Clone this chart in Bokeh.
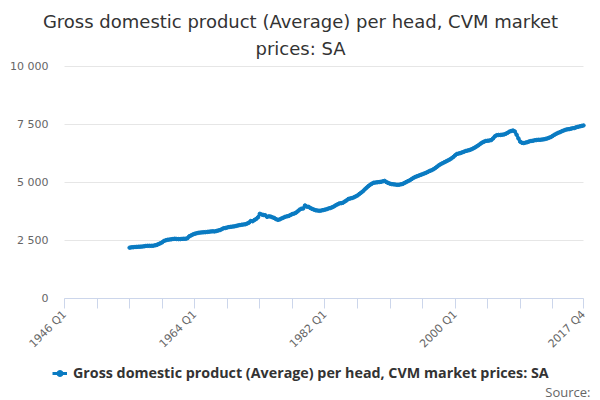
import math
from bokeh.plotting import figure
from bokeh.models import (Range1d, FixedTicker, Legend, LegendItem,
                          ColumnDataSource, Label)
from bokeh.embed import file_html
from bokeh.resources import INLINE

TITLE_1 = "Gross domestic product (Average) per head, CVM market"
TITLE_2 = "prices: SA"
SERIES_NAME = "Gross domestic product (Average) per head, CVM market prices: SA"
SOURCE_TEXT = "Source:"

FIRST_YEAR = 1946
LAST_YEAR = 2017
DATA_START_YEAR = 1955

# quarterly values (Q1..Q4) per year, 1955-2017
values_1955_1964 = [
    2190, 2205, 2210, 2220,
    2225, 2230, 2235, 2240,
    2250, 2265, 2270, 2270,
    2270, 2275, 2290, 2310,
    2345, 2380, 2420, 2480,
    2510, 2530, 2540, 2550,
    2565, 2575, 2565, 2560,
    2560, 2570, 2575, 2575,
    2600, 2680, 2720, 2760,
    2790, 2810, 2830, 2840,
]
values_1965_1974 = [
    2850, 2855, 2860, 2870,
    2880, 2890, 2895, 2890,
    2910, 2930, 2950, 2990,
    3030, 3040, 3060, 3080,
    3090, 3100, 3110, 3130,
    3150, 3165, 3180, 3190,
    3200, 3230, 3270, 3340,
    3330, 3380, 3430, 3500,
    3650, 3620, 3600, 3590,
    3520, 3540, 3530, 3500,
]
values_1975_1984 = [
    3470, 3420, 3390, 3410,
    3450, 3480, 3520, 3540,
    3560, 3600, 3640, 3660,
    3700, 3760, 3830, 3870,
    3880, 4010, 3960, 3950,
    3900, 3860, 3830, 3800,
    3790, 3780, 3790, 3810,
    3830, 3850, 3880, 3900,
    3930, 3970, 4020, 4060,
    4100, 4110, 4130, 4180,
]
values_1985_1994 = [
    4230, 4290, 4310, 4330,
    4360, 4400, 4440, 4500,
    4560, 4620, 4700, 4770,
    4840, 4900, 4950, 4990,
    5000, 5010, 5020, 5030,
    5050, 5070, 5020, 4980,
    4950, 4930, 4920, 4910,
    4900, 4905, 4920, 4940,
    4980, 5020, 5060, 5100,
    5150, 5200, 5240, 5270,
]
values_1995_2004 = [
    5300, 5330, 5360, 5390,
    5420, 5460, 5500, 5530,
    5570, 5620, 5680, 5740,
    5790, 5830, 5870, 5910,
    5950, 5990, 6040, 6100,
    6170, 6230, 6250, 6270,
    6300, 6330, 6360, 6380,
    6400, 6430, 6470, 6510,
    6560, 6610, 6670, 6720,
    6760, 6790, 6800, 6810,
]
values_2005_2017 = [
    6830, 6900, 6990, 7040,
    7050, 7050, 7060, 7070,
    7100, 7140, 7190, 7220,
    7240, 7200, 7060, 6900,
    6760, 6710, 6700, 6720,
    6740, 6770, 6790, 6800,
    6820, 6830, 6840, 6840,
    6850, 6860, 6880, 6900,
    6930, 6960, 7010, 7060,
    7100, 7140, 7170, 7210,
    7240, 7270, 7290, 7300,
    7320, 7340, 7350, 7380,
    7400, 7420, 7440, 7460,
]

y_ticks = [0, 2500, 5000, 7500, 10000]
y_tick_labels = ["0", "2 500", "5 000", "7 500", "10 000"]
x_label_quarters = ["1946 Q1", "1964 Q1", "1982 Q1", "2000 Q1", "2017 Q4"]

values = (values_1955_1964 + values_1965_1974 + values_1975_1984 +
          values_1985_1994 + values_1995_2004 + values_2005_2017)
start_idx = (DATA_START_YEAR - FIRST_YEAR) * 4
x_idx = list(range(start_idx, start_idx + len(values)))
last_idx = (LAST_YEAR - FIRST_YEAR) * 4 + 3
Y_MAX = y_ticks[-1]

def q_index(label):
    yr, q = label.split(" ")
    return (int(yr) - FIRST_YEAR) * 4 + int(q[1]) - 1

src = ColumnDataSource(dict(x=x_idx, y=values))

# ---- geometry (canvas pixels; the frame covers the whole canvas) ----
W, H = 600, 400
AXIS_L, AXIS_R = 64, 583     # pixels of first / last quarter
Y_TOP, Y_ZERO = 66, 298      # pixels of Y_MAX / 0
px_per_q = (AXIS_R - AXIS_L) / last_idx
px_per_v = (Y_ZERO - Y_TOP) / Y_MAX
x_range = Range1d(-AXIS_L / px_per_q, last_idx + (W - AXIS_R) / px_per_q)
y_range = Range1d(-(H - Y_ZERO) / px_per_v, Y_MAX + Y_TOP / px_per_v)

p = figure(width=W, height=H, output_backend="svg", toolbar_location=None,
           x_range=x_range, y_range=y_range, min_border=0)
p.title.visible = False
p.background_fill_color = "white"
p.border_fill_color = "white"
p.outline_line_color = None
p.xgrid.visible = False
p.ygrid.visible = False

COLOR = "#0a7bc2"

# horizontal grid lines at the y ticks, spanning the category axis
p.segment(x0=[0] * len(y_ticks), x1=[last_idx] * len(y_ticks),
          y0=y_ticks, y1=y_ticks, line_color="#e6e6e6", line_width=1,
          level="underlay")

ln = p.line("x", "y", source=src, line_color=COLOR, line_width=3)
pts = p.scatter("x", "y", source=src, size=3.5, fill_color=COLOR, line_color=COLOR)

# y axis
p.yaxis.fixed_location = 0
p.yaxis.ticker = FixedTicker(ticks=y_ticks)
p.yaxis.major_label_overrides = {t: l for t, l in zip(y_ticks, y_tick_labels)}
p.yaxis.axis_line_color = None
p.yaxis.major_tick_line_color = None
p.yaxis.major_tick_out = 0
p.yaxis.major_tick_in = 0
p.yaxis.minor_tick_line_color = None
p.yaxis.major_label_text_color = "#666666"
p.yaxis.major_label_text_font = "DejaVu Sans"
p.yaxis.major_label_text_font_size = "11px"
p.yaxis.major_label_standoff = 16

# x axis
x_tick_positions = list(range(0, last_idx, 18)) + [last_idx]
label_pos = [q_index(l) for l in x_label_quarters]
overrides = {}
for t in x_tick_positions:
    overrides[t] = ""
for t, l in zip(label_pos, x_label_quarters):
    overrides[t] = l
p.xaxis.fixed_location = 0
p.xaxis.bounds = (0, last_idx)
p.xaxis.ticker = FixedTicker(ticks=x_tick_positions)
p.xaxis.major_label_overrides = overrides
p.xaxis.axis_line_color = "#ccd6eb"
p.xaxis.major_tick_line_color = "#ccd6eb"
p.xaxis.major_tick_out = 10
p.xaxis.major_tick_in = 0
p.xaxis.minor_tick_line_color = None
p.xaxis.major_label_orientation = math.pi / 4
p.xaxis.major_label_text_color = "#666666"
p.xaxis.major_label_text_font = "DejaVu Sans"
p.xaxis.major_label_text_font_size = "11px"
p.xaxis.major_label_standoff = 4

# title (two lines)
for txt, yc in [(TITLE_1, 21), (TITLE_2, 48)]:
    p.add_layout(Label(x=W / 2, y=H - yc, x_units="screen", y_units="screen",
                       text=txt, text_align="center", text_baseline="middle",
                       text_font="DejaVu Sans", text_font_size="18px",
                       text_color="#333333"))

legend = Legend(items=[LegendItem(label=SERIES_NAME, renderers=[ln, pts])],
                location=(52, H - 374 - 8), orientation="horizontal",
                label_text_font="Open Sans", label_text_font_style="bold",
                label_text_font_size="14.3px", label_text_color="#333333",
                border_line_color=None, background_fill_alpha=0,
                glyph_width=15, glyph_height=16, label_height=16,
                label_standoff=6, padding=0, margin=0)
p.add_layout(legend, "center")

p.add_layout(Label(x=590, y=H - 391, x_units="screen", y_units="screen",
                   text=SOURCE_TEXT, text_align="right", text_baseline="middle",
                   text_font="Open Sans", text_font_size="13px",
                   text_color="#666666"))

open("out.html", "w").write(file_html(p, INLINE))
